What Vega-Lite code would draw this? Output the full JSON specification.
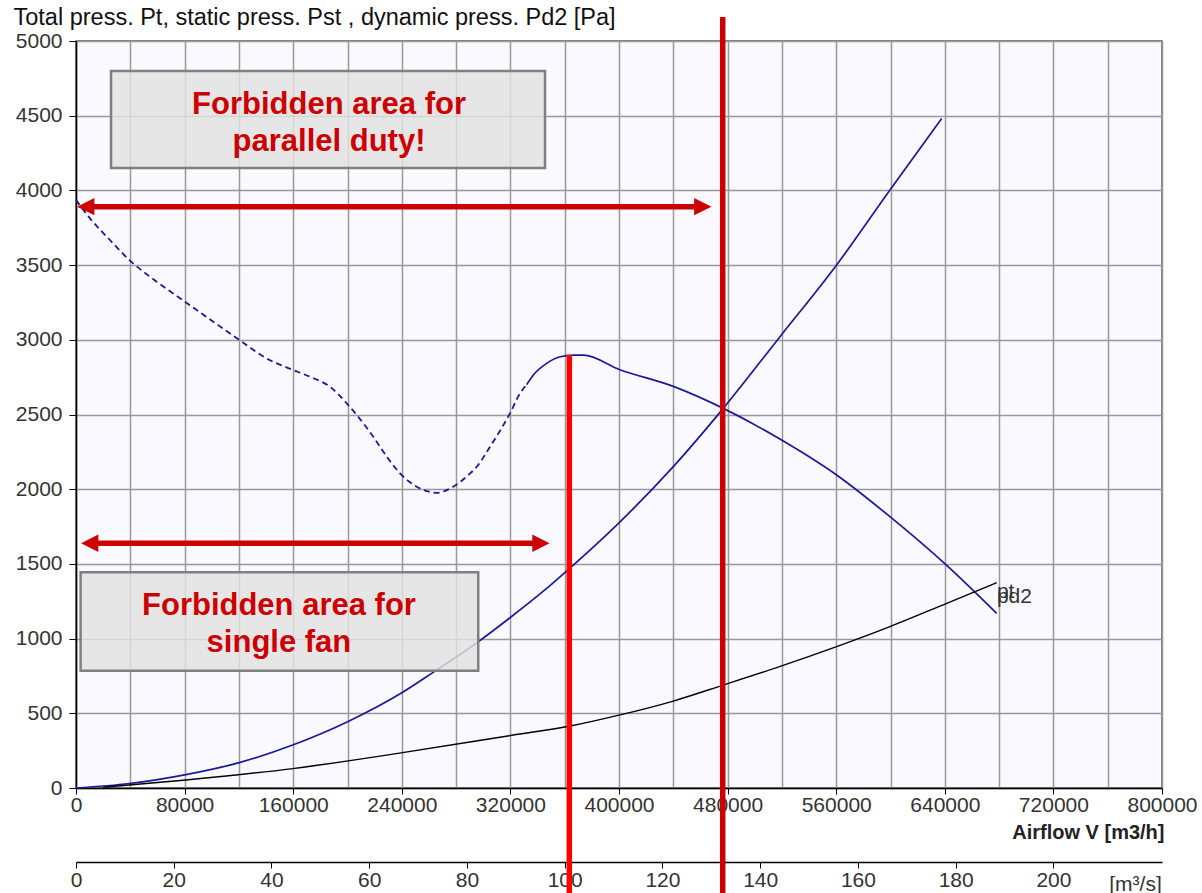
{
  "$schema": "https://vega.github.io/schema/vega-lite/v6.json",
  "width": 1086,
  "height": 747,
  "autosize": {"type": "none"},
  "padding": {"left": 76, "top": 41, "right": 40, "bottom": 105},
  "background": "white",
  "config": {
    "view": {"fill": "#f9f9ff", "stroke": "#555", "strokeWidth": 1.5},
    "font": "Liberation Sans"
  },
  "datasets": {
    "pst_dashed": [
      {"x": 0, "y": 3936}, {"x": 10300, "y": 3813}, {"x": 25000, "y": 3668}, {"x": 39800, "y": 3530},
      {"x": 59400, "y": 3389}, {"x": 80300, "y": 3255}, {"x": 101100, "y": 3121}, {"x": 120300, "y": 2999},
      {"x": 141500, "y": 2870}, {"x": 158000, "y": 2805}, {"x": 173000, "y": 2750}, {"x": 187100, "y": 2686},
      {"x": 199400, "y": 2575}, {"x": 206800, "y": 2497}, {"x": 219000, "y": 2351}, {"x": 228900, "y": 2218},
      {"x": 238700, "y": 2106}, {"x": 251000, "y": 2017}, {"x": 265700, "y": 1976}, {"x": 277900, "y": 2017},
      {"x": 289000, "y": 2095}, {"x": 295200, "y": 2150}, {"x": 305000, "y": 2284}, {"x": 319700, "y": 2508},
      {"x": 327100, "y": 2642}, {"x": 332000, "y": 2700}
    ],
    "pst_solid": [
      {"x": 332000, "y": 2700}, {"x": 336900, "y": 2764}, {"x": 346700, "y": 2842}, {"x": 356000, "y": 2885},
      {"x": 366300, "y": 2898}, {"x": 373700, "y": 2898}, {"x": 400700, "y": 2800}, {"x": 440000, "y": 2688},
      {"x": 476800, "y": 2541}, {"x": 519800, "y": 2329}, {"x": 560300, "y": 2095}, {"x": 599600, "y": 1816},
      {"x": 641400, "y": 1490}, {"x": 678200, "y": 1169}
    ],
    "system": [
      {"x": 0, "y": 0}, {"x": 39300, "y": 30}, {"x": 81000, "y": 90}, {"x": 120300, "y": 170},
      {"x": 159600, "y": 288}, {"x": 200100, "y": 444}, {"x": 239400, "y": 634}, {"x": 263900, "y": 779},
      {"x": 294700, "y": 968}, {"x": 319200, "y": 1136}, {"x": 343800, "y": 1314}, {"x": 362200, "y": 1459},
      {"x": 398300, "y": 1760}, {"x": 440000, "y": 2151}, {"x": 476800, "y": 2541}, {"x": 518600, "y": 3021},
      {"x": 560300, "y": 3501}, {"x": 599600, "y": 4003}, {"x": 637700, "y": 4482}
    ],
    "pd2": [
      {"x": 20000, "y": 5}, {"x": 81000, "y": 54}, {"x": 159600, "y": 130}, {"x": 239400, "y": 235},
      {"x": 319200, "y": 350}, {"x": 365900, "y": 418}, {"x": 400700, "y": 489}, {"x": 440000, "y": 582},
      {"x": 476800, "y": 689}, {"x": 519800, "y": 817}, {"x": 560300, "y": 946}, {"x": 599600, "y": 1080},
      {"x": 641400, "y": 1236}, {"x": 678200, "y": 1374}
    ],
    "boxes": [
      {"x": 25800, "x2": 345500, "y": 4800, "y2": 4150},
      {"x": 3400, "x2": 296300, "y": 1444, "y2": 785}
    ],
    "box_text": [
      {"x": 186400, "y": 4511, "label": "Forbidden area for"},
      {"x": 186400, "y": 4264, "label": "parallel duty!"},
      {"x": 149500, "y": 1158, "label": "Forbidden area for"},
      {"x": 149500, "y": 910, "label": "single fan"}
    ],
    "arrows": [
      {"x": 7150, "x2": 461700, "y": 3891},
      {"x": 10100, "x2": 342500, "y": 1638}
    ],
    "heads": [
      {"x": 7150, "y": 3891, "dir": "left"},
      {"x": 461700, "y": 3891, "dir": "right"},
      {"x": 10100, "y": 1638, "dir": "left"},
      {"x": 342500, "y": 1638, "dir": "right"}
    ],
    "verticals": [
      {"x": 363400, "y": 2898, "y2": -720, "kind": "single"},
      {"x": 476400, "y": 5160, "y2": -720, "kind": "parallel"}
    ],
    "curve_labels": [
      {"x": 678400, "y": 1272, "label": "pt"},
      {"x": 678400, "y": 1238, "label": "pd2"}
    ],
    "ms_axis": [{"ms": 0}, {"ms": 222.2222}]
  },
  "layer": [
    {
      "layer": [
        {
          "data": {"name": "system"},
          "mark": {"type": "line", "color": "#1a1a99", "strokeWidth": 1.7, "interpolate": "monotone"},
          "encoding": {
            "x": {
              "field": "x", "type": "quantitative",
              "scale": {"domain": [0, 800000], "nice": false, "zero": false},
              "axis": {
                "title": "Airflow V [m3/h]",
                "values": [0, 40000, 80000, 120000, 160000, 200000, 240000, 280000, 320000, 360000, 400000, 440000, 480000, 520000, 560000, 600000, 640000, 680000, 720000, 760000, 800000],
                "format": "d",
                "labelExpr": "datum.value % 80000 === 0 ? datum.label : ''",
                "grid": true, "gridColor": "#999", "gridWidth": 1.5,
                "domainColor": "#000", "domainWidth": 1.5,
                "tickColor": {"condition": {"test": "datum.value % 80000 === 0", "value": "#000"}, "value": "transparent"},
                "tickSize": 6,
                "labelFontSize": 21, "labelColor": "#333", "labelPadding": 0,
                "labelOverlap": false, "labelFlush": false, "labelBound": false,
                "titleFontSize": 20, "titleFontWeight": "bold", "titleColor": "#222",
                "titleAlign": "right", "titleAnchor": "start", "titleX": 1088, "titleY": 44, "titleBaseline": "middle"
              }
            },
            "y": {
              "field": "y", "type": "quantitative",
              "scale": {"domain": [0, 5000], "nice": false},
              "axis": {
                "title": "Total press. Pt, static press. Pst , dynamic press. Pd2 [Pa]",
                "values": [0, 250, 500, 750, 1000, 1250, 1500, 1750, 2000, 2250, 2500, 2750, 3000, 3250, 3500, 3750, 4000, 4250, 4500, 4750, 5000],
                "format": "d",
                "labelExpr": "datum.value % 500 === 0 ? datum.label : ''",
                "grid": true, "gridColor": "#999", "gridWidth": 1.5,
                "domainColor": "#000", "domainWidth": 1.5,
                "tickColor": {"condition": {"test": "datum.value % 500 === 0", "value": "#000"}, "value": "transparent"},
                "tickSize": 7,
                "labelFontSize": 21, "labelColor": "#333", "labelPadding": 7,
                "labelOverlap": false, "labelBound": false, "labelFlush": false,
                "titleAngle": 0, "titleAlign": "left", "titleBaseline": "middle", "titleAnchor": "start",
                "titleX": -63, "titleY": -24, "titleFontSize": 23.5, "titleFontWeight": "normal", "titleColor": "#111"
              }
            }
          }
        },
        {
          "data": {"name": "pst_dashed"},
          "mark": {"type": "line", "color": "#1a1a99", "strokeWidth": 1.8, "strokeDash": [6, 4], "interpolate": "monotone"},
          "encoding": {
            "x": {"field": "x", "type": "quantitative"},
            "y": {"field": "y", "type": "quantitative"}
          }
        },
        {
          "data": {"name": "pst_solid"},
          "mark": {"type": "line", "color": "#1a1a99", "strokeWidth": 1.7, "interpolate": "monotone"},
          "encoding": {
            "x": {"field": "x", "type": "quantitative"},
            "y": {"field": "y", "type": "quantitative"}
          }
        },
        {
          "data": {"name": "pd2"},
          "mark": {"type": "line", "color": "#000000", "strokeWidth": 1.4, "interpolate": "monotone"},
          "encoding": {
            "x": {"field": "x", "type": "quantitative"},
            "y": {"field": "y", "type": "quantitative"}
          }
        },
        {
          "data": {"name": "boxes"},
          "mark": {"type": "rect", "fill": "#e2e2e2", "fillOpacity": 0.82, "stroke": "#808080", "strokeWidth": 2.5},
          "encoding": {
            "x": {"field": "x", "type": "quantitative"},
            "x2": {"field": "x2"},
            "y": {"field": "y", "type": "quantitative"},
            "y2": {"field": "y2"}
          }
        },
        {
          "data": {"name": "box_text"},
          "mark": {"type": "text", "align": "center", "baseline": "alphabetic", "fontSize": 31, "fontWeight": "bold", "color": "#cc0000", "font": "Liberation Sans"},
          "encoding": {
            "x": {"field": "x", "type": "quantitative"},
            "y": {"field": "y", "type": "quantitative"},
            "text": {"field": "label"}
          }
        },
        {
          "data": {"name": "arrows"},
          "mark": {"type": "rule", "color": "#cc0000", "strokeWidth": 5.5},
          "encoding": {
            "x": {"field": "x", "type": "quantitative"},
            "x2": {"field": "x2"},
            "y": {"field": "y", "type": "quantitative"}
          }
        },
        {
          "data": {"name": "heads"},
          "mark": {"type": "point", "filled": true, "color": "#cc0000", "opacity": 1, "size": 300},
          "encoding": {
            "x": {"field": "x", "type": "quantitative"},
            "y": {"field": "y", "type": "quantitative"},
            "shape": {
              "field": "dir", "type": "nominal",
              "scale": {"domain": ["left", "right"], "range": ["M1,-1L-1,0L1,1Z", "M-1,-1L1,0L-1,1Z"]},
              "legend": null
            }
          }
        },
        {
          "data": {"name": "verticals"},
          "mark": {"type": "rule", "strokeWidth": 5.5},
          "encoding": {
            "x": {"field": "x", "type": "quantitative"},
            "y": {"field": "y", "type": "quantitative"},
            "y2": {"field": "y2"},
            "color": {
              "field": "kind", "type": "nominal",
              "scale": {"domain": ["single", "parallel"], "range": ["#ff0000", "#cc0000"]},
              "legend": null
            }
          }
        },
        {
          "data": {"name": "curve_labels"},
          "mark": {"type": "text", "align": "left", "baseline": "alphabetic", "fontSize": 21, "color": "#333", "font": "Liberation Sans"},
          "encoding": {
            "x": {"field": "x", "type": "quantitative"},
            "y": {"field": "y", "type": "quantitative"},
            "text": {"field": "label"}
          }
        }
      ]
    },
    {
      "data": {"name": "ms_axis"},
      "mark": {"type": "point", "opacity": 0},
      "encoding": {
        "x": {
          "field": "ms", "type": "quantitative",
          "scale": {"domain": [0, 222.2222], "nice": false, "zero": false},
          "axis": {
            "orient": "bottom", "offset": 74,
            "values": [0, 20, 40, 60, 80, 100, 120, 140, 160, 180, 200],
            "format": "d",
            "grid": false,
            "domainColor": "#000", "domainWidth": 1.5,
            "tickColor": "#000", "tickSize": 6,
            "labelFontSize": 21, "labelColor": "#333", "labelPadding": 1,
            "labelFlush": false, "labelOverlap": false, "labelBound": false,
            "title": "[m³/s]",
            "titleX": 1059, "titleY": 22, "titleAlign": "center", "titleAnchor": "start", "titleBaseline": "middle",
            "titleFontWeight": "normal", "titleFontSize": 21, "titleColor": "#333"
          }
        }
      }
    }
  ],
  "resolve": {"scale": {"x": "independent"}, "axis": {"x": "independent"}}
}
